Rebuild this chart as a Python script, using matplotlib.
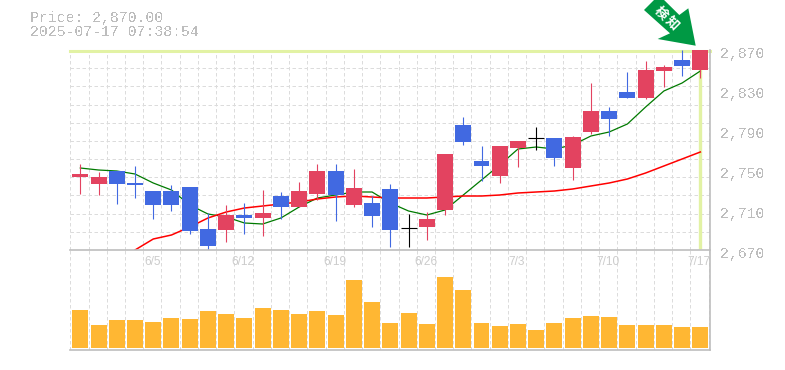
import matplotlib
matplotlib.use("Agg")
import matplotlib.pyplot as plt
from matplotlib.patches import Polygon
from matplotlib.transforms import Affine2D

# price data
opens = [2743, 2736, 2749, 2737, 2729, 2729, 2733, 2691, 2690, 2705, 2702, 2724,
         2713, 2726, 2749, 2715, 2717, 2731, 2692, 2693, 2710, 2795, 2759, 2744,
         2772, 2782, 2782, 2752, 2788, 2809, 2828, 2822, 2849, 2860, 2850]
closes = [2746, 2743, 2736, 2735, 2715, 2715, 2689, 2674, 2705, 2702, 2707, 2713,
          2729, 2749, 2725, 2732, 2704, 2690, 2692, 2701, 2766, 2778, 2754, 2774,
          2779, 2782, 2762, 2783, 2809, 2801, 2822, 2850, 2853, 2854, 2870]
highs = [2756, 2748, 2749, 2754, 2729, 2735, 2733, 2707, 2715, 2717, 2730, 2728,
         2738, 2756, 2756, 2751, 2724, 2736, 2706, 2708, 2766, 2803, 2774, 2774,
         2779, 2793, 2782, 2784, 2837, 2813, 2848, 2859, 2855, 2870, 2870]
lows = [2726, 2725, 2716, 2722, 2701, 2709, 2686, 2669, 2678, 2686, 2684, 2701,
        2713, 2720, 2699, 2713, 2693, 2673, 2673, 2680, 2705, 2775, 2739, 2737,
        2753, 2770, 2754, 2740, 2786, 2784, 2822, 2821, 2833, 2844, 2842]
ma_short = [2752, 2750, 2749, 2746, 2737, 2730, 2715, 2706, 2703, 2697, 2696, 2702,
            2713, 2722, 2725, 2728, 2728, 2717, 2709, 2705, 2710, 2725, 2740, 2755,
            2771, 2773, 2771, 2775, 2784, 2788, 2796, 2813, 2829, 2837, 2849]
ma_long = [None, None, None, 2670, 2681, 2685, 2693, 2702, 2708, 2712, 2714, 2716,
           2718, 2721, 2723, 2724, 2723, 2722, 2722, 2722, 2723, 2724, 2724, 2725,
           2727, 2728, 2729, 2731, 2734, 2737, 2741, 2747, 2754, 2761, 2768]
volumes = [38, 23, 28, 28, 26, 30, 29, 37, 34, 30, 40, 38, 34, 37, 33, 68, 46, 25,
           35, 24, 71, 58, 25, 22, 24, 18, 25, 30, 32, 31, 23, 23, 23, 21, 21]

date_pos = [4, 9, 14, 19, 24, 29, 34]
date_labels = ["6/5", "6/12", "6/19", "6/26", "7/3", "7/10", "7/17"]
price_labels = ["2,870", "2,830", "2,790", "2,750", "2,710", "2,670"]
price_ticks = [2870, 2830, 2790, 2750, 2710, 2670]

RED = "#E34360"
BLUE = "#4169E1"
GRID = "#DCDCDC"
EDGE = "#BDBDBD"
MARK = "#E2F2A4"
TEXT = "#BDBDBD"
W, H = 785, 370
DASH = (0, (3.5, 2.5))

plt.rcParams["font.family"] = ["Liberation Mono", "DejaVu Sans Mono"]
plt.rcParams["text.antialiased"] = False

fig = plt.figure(figsize=(W / 100, H / 100), dpi=100)
ax = fig.add_axes([70 / W, 1 - 250 / H, 640 / W, 200 / H])
vol = fig.add_axes([70 / W, 1 - 350 / H, 640 / W, 100 / H])

xlim = (-0.565, 34.53)
grid_x = [k - 0.55 for k in range(36)]
for a in (ax, vol):
    a.set_xlim(xlim)
    a.set_xticks([])
    a.set_yticks([])
    a.patch.set_alpha(0)
    for s in a.spines.values():
        s.set_visible(False)
    a.vlines(grid_x, 0, 1, transform=a.get_xaxis_transform(), color=GRID,
             lw=0.72, linestyles=DASH, zorder=1)

ax.set_ylim(2670, 2870)
ax.hlines([2670 + 200 * k / 11 for k in range(1, 11)], 0, 1,
          transform=ax.get_yaxis_transform(), color=GRID, lw=0.72,
          linestyles=DASH, zorder=1)

# last price marker
last = len(closes) - 1
ax.axhline(closes[last] - 0.7, color=MARK, lw=2.2, zorder=2, clip_on=False)
ax.plot([last, last], [2671, 2870], color=MARK, lw=2.4, zorder=2, solid_capstyle="butt")

ax.plot(range(len(ma_short)), ma_short, color="#007A00", lw=0.9, zorder=3)
ax.plot(range(len(ma_long)), [float("nan") if v is None else v for v in ma_long],
        color="#FF0000", lw=1.1, zorder=3)

for i in range(len(closes)):
    o, c = opens[i], closes[i]
    if c == o:
        col = "black"
    elif c > o:
        col = RED
    else:
        col = BLUE
    ax.vlines(i, lows[i], highs[i], color=col, lw=0.8, zorder=4)
    if c == o:
        ax.hlines(c, i - 0.44, i + 0.44, color=col, lw=0.8, zorder=4)
    else:
        ax.bar(i, abs(c - o), bottom=min(o, c), width=0.877, color=col, lw=0, zorder=5)

vol.set_ylim(-2, 98)
vol.bar(range(len(volumes)), volumes, width=0.877, color="#FFB733", lw=0, zorder=3)

# frame lines
ax.plot([0, 1], [0, 0], transform=ax.transAxes, color=EDGE, lw=1.2, clip_on=False, zorder=6)
vol.plot([0, 1], [0, 0], transform=vol.transAxes, color=EDGE, lw=1.2, clip_on=False, zorder=6)
fig.add_artist(plt.Line2D([710 / W, 710 / W], [1 - 350 / H, 1 - 50 / H], color=EDGE, lw=1.2))

for t, lab in zip(price_ticks, price_labels):
    fig.text(720 / W, 1 - (2920 - t + 4) / H, lab, color=TEXT, fontsize=10.7,
             va="center", ha="left")
for p, lab in zip(date_pos, date_labels):
    px = 70 + (p - xlim[0]) / (xlim[1] - xlim[0]) * 640 - 1
    fig.text(px / W, 1 - 262 / H, lab, color="#CCCCCC", fontsize=8.6, va="center",
             ha="center", family="Liberation Sans", antialiased=True)

fig.text(30 / W, 1 - 18 / H, "Price: 2,870.00", color=TEXT, fontsize=10.7, va="center")
fig.text(30 / W, 1 - 32 / H, "2025-07-17 07:38:54", color=TEXT, fontsize=10.7, va="center")

# green arrow in the top right corner
arrow = [(695.7, 45.7), (657.7, 39), (670, 33.3), (644, 10), (659, -5), (679.3, 15), (688.3, 8.3)]
to_fig = Affine2D().scale(1, -1).translate(0, H)
fig.add_artist(Polygon(arrow, closed=True, color="#009944", lw=0, transform=to_fig, zorder=7))
for cx, cy, ch in [(660.7, 13, "検"), (672.3, 23.3, "知")]:
    fig.text(cx / W, 1 - cy / H, ch, color="white", fontsize=9.5, rotation=-45,
             fontweight="bold", ha="center", va="center", antialiased=True,
             family=["Noto Sans CJK JP", "DejaVu Sans"], zorder=8)

fig.savefig("out.png", dpi=100)
